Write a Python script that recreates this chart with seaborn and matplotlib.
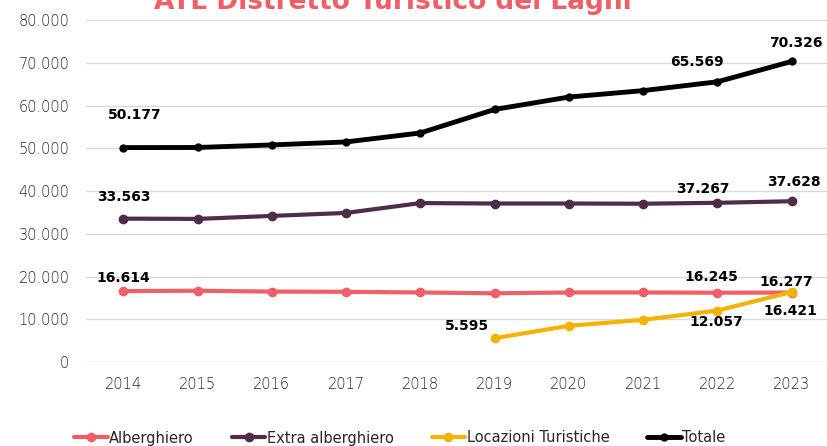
import numpy as np
import pandas as pd
import seaborn as sns
import matplotlib.pyplot as plt

# data
years = [2014, 2015, 2016, 2017, 2018, 2019, 2020, 2021, 2022, 2023]
alberghiero = [16614, 16700, 16500, 16450, 16300, 16100, 16300, 16300, 16245, 16277]
extra_alberghiero = [33563, 33500, 34200, 34900, 37200, 37100, 37100, 37050, 37267, 37628]
locazioni = [np.nan, np.nan, np.nan, np.nan, np.nan, 5595, 8500, 9900, 12057, 16421]
totale = [50177, 50200, 50800, 51500, 53600, 59100, 62000, 63500, 65569, 70326]

series_names = ['Alberghiero', 'Extra alberghiero', 'Locazioni Turistiche', 'Totale']
colors = ['#EF5F67', '#4E2C4A', '#F3B300', '#000000']

df = pd.DataFrame({'anno': years,
                   'Alberghiero': alberghiero,
                   'Extra alberghiero': extra_alberghiero,
                   'Locazioni Turistiche': locazioni,
                   'Totale': totale})
long = df.melt(id_vars='anno', var_name='serie', value_name='valore').dropna()

sns.set_theme(style='white')
plt.rcParams['font.family'] = ['DejaVu Sans']

fig = plt.figure(figsize=(8.28, 4.46), dpi=100)
ax = fig.add_axes([0.104, 0.188, 0.897, 0.767])

sns.lineplot(data=long, x='anno', y='valore', hue='serie', hue_order=series_names,
             palette=colors, marker='o', markersize=7, markeredgewidth=0,
             linewidth=3, ax=ax, legend=True)
# the total line is drawn a bit heavier with smaller dots
for ln in ax.lines:
    if ln.get_label() == 'Totale' or np.allclose(plt.matplotlib.colors.to_rgb(ln.get_color()), (0, 0, 0)):
        ln.set_linewidth(3.5)
        ln.set_markersize(6)

ax.set_xlim(2013.5, 2023.5)
ax.set_ylim(0, 80000)
ax.set_xticks(years)
ax.set_yticks(range(0, 80001, 10000))
ax.set_yticklabels(['0'] + [f'{v:,}'.replace(',', '.') for v in range(10000, 80001, 10000)])
ax.tick_params(axis='y', length=0, labelsize=10.5, labelcolor='#262626', pad=12)
ax.tick_params(axis='x', length=0, labelsize=10.5, labelcolor='#262626', pad=11)
for lab in ax.get_xticklabels() + ax.get_yticklabels():
    lab.set_fontweight('light')
ax.set_xlabel('')
ax.set_ylabel('')
ax.grid(axis='y', color='#D9D9D9', linewidth=1)
ax.set_axisbelow(True)
for s in ax.spines.values():
    s.set_visible(False)

# data labels: (year, value, dx, dy) offsets in pixels
labels = [
    (2014, 50177, 11, 33), (2022, 65569, -20, 20), (2023, 70326, 4, 18),
    (2014, 33563, 1, 22), (2022, 37267, -15, 14), (2023, 37628, 2, 19),
    (2014, 16614, 0, 13), (2022, 16245, -6, 16), (2023, 16277, -5, 11),
    (2019, 5595, -28, 12), (2022, 12057, -1, -11), (2023, 16421, -1, -19),
]
for x, v, dx, dy in labels:
    ax.annotate(f'{v:,}'.replace(',', '.'), (x, v), xytext=(dx, dy),
                textcoords='offset pixels', ha='center', va='center',
                fontsize=10, fontweight='bold', color='black')

fig.text(0.475, 1 - 9 / 446, 'ATL Distretto Turistico dei Laghi', ha='center',
         va='baseline', fontsize=19, fontweight='bold', color='#EF5F67')

handles, lbls = ax.get_legend_handles_labels()
ax.legend_.remove()
fig.legend(handles, lbls, loc='center', bbox_to_anchor=(400 / 828, 1 - 438 / 446),
           ncol=4, frameon=False, handlelength=2.3, handletextpad=0.1,
           columnspacing=2.6, borderaxespad=0, borderpad=0,
           prop={'family': ['Liberation Sans Narrow', 'DejaVu Sans'], 'size': 10.5})

fig.savefig('out.png', dpi=100)
